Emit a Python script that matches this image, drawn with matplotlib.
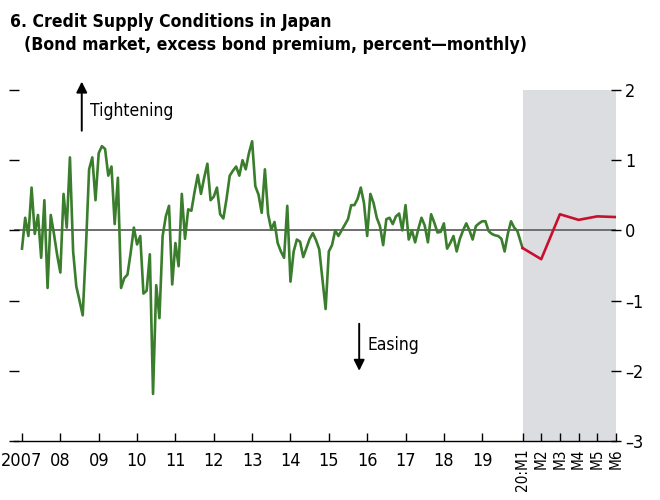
import numpy as np
import matplotlib
matplotlib.use('Agg')
import matplotlib.pyplot as plt

plt.rcParams['font.family'] = ['DejaVu Sans']
plt.rcParams['font.stretch'] = 'condensed'

# monthly excess bond premium, 2007:M1 - 2019:M12
ebp_hist = [
    -0.26, 0.18, -0.08, 0.61, -0.05, 0.22, -0.39, 0.43, -0.82, 0.22, -0.05, -0.35,   # 2007
    -0.60, 0.52, 0.04, 1.04, -0.30, -0.80, -1.00, -1.21, -0.25, 0.87, 1.04, 0.43,    # 2008
    1.10, 1.20, 1.16, 0.78, 0.91, 0.09, 0.75, -0.82, -0.68, -0.63, -0.32, 0.04,      # 2009
    -0.20, -0.08, -0.90, -0.86, -0.34, -2.33, -0.78, -1.25, -0.08, 0.20, 0.35, -0.77,  # 2010
    -0.18, -0.51, 0.52, -0.12, 0.30, 0.28, 0.55, 0.79, 0.52, 0.75, 0.95, 0.43,       # 2011
    0.48, 0.61, 0.23, 0.17, 0.45, 0.78, 0.85, 0.91, 0.78, 1.00, 0.87, 1.10,          # 2012
    1.27, 0.63, 0.51, 0.25, 0.87, 0.23, 0.01, 0.12, -0.18, -0.30, -0.39, 0.35,       # 2013
    -0.73, -0.30, -0.13, -0.16, -0.38, -0.25, -0.12, -0.04, -0.14, -0.27, -0.70, -1.12,  # 2014
    -0.30, -0.21, 0.00, -0.08, 0.00, 0.08, 0.16, 0.36, 0.36, 0.45, 0.61, 0.39,       # 2015
    -0.08, 0.52, 0.39, 0.18, 0.06, -0.21, 0.16, 0.18, 0.09, 0.20, 0.24, 0.00,        # 2016
    0.36, -0.13, 0.00, -0.17, 0.02, 0.18, 0.07, -0.17, 0.23, 0.11, -0.03, -0.02,     # 2017
    0.10, -0.26, -0.18, -0.08, -0.30, -0.12, 0.00, 0.10, 0.00, -0.13, 0.06, 0.10,    # 2018
    0.13, 0.13, -0.01, -0.05, -0.07, -0.08, -0.12, -0.30, -0.05, 0.13, 0.04, -0.01,  # 2019
]
# 2020:M1 - M6
ebp_2020 = [-0.25, -0.41, 0.23, 0.15, 0.20, 0.19]

year_labels = ['2007', '08', '09', '10', '11', '12', '13', '14', '15', '16', '17', '18', '19']
month_labels = ['20:M1', 'M2', 'M3', 'M4', 'M5', 'M6']

green = '#3a7d2c'
red = '#c8102e'

# x layout: one unit per month up to 2019, stretched months for 2020
x_hist = np.arange(len(ebp_hist))
x_2020 = 156.6 + 5.85 * np.arange(len(ebp_2020))
year_ticks = np.arange(len(year_labels)) * 12

fig = plt.figure(figsize=(6.6, 5.0), dpi=100)
ax = fig.add_axes([14 / 660, 59 / 500, 602 / 660, 351 / 500])

ax.axvspan(x_2020[0], x_2020[-1], color='#dcdde0', lw=0, zorder=0)
ax.axhline(0, color='#6e6e6e', lw=1.4, zorder=1)

ax.plot(list(x_hist) + [x_2020[0]], ebp_hist + [ebp_2020[0]], color=green, lw=1.9, zorder=3)
ax.plot(x_2020, ebp_2020, color=red, lw=1.9, zorder=3)

ax.set_xlim(-2.5, x_2020[-1])
ax.set_ylim(-3, 2)

for s in ['top', 'left', 'right']:
    ax.spines[s].set_visible(False)
ax.spines['bottom'].set_linewidth(1.0)

ax.set_xticks(list(year_ticks) + list(x_2020))
ax.set_xticklabels(year_labels + month_labels)
ax.tick_params(axis='x', direction='in', length=6, width=1, pad=8, labelsize=13)
for lab in ax.get_xticklabels()[len(year_labels):]:
    lab.set_rotation(90)
    lab.set_va('top')
    lab.set_fontsize(11)
    lab.set_y(lab.get_position()[1] + 0.01)

ax.set_yticks([2, 1, 0, -1, -2, -3])
ax.yaxis.set_ticks_position('both')
ax.tick_params(axis='y', which='both', left=True, right=True, labelleft=False,
               labelright=True, length=7, width=1, labelsize=13, pad=3)
ax.tick_params(axis='y', direction='inout')
ax.set_yticklabels(['2', '1', '0', '\u20131', '\u20132', '\u20133'])

# direction annotations
ax.annotate('', xy=(18.7, 2.12), xytext=(18.7, 1.42),
            arrowprops=dict(arrowstyle='-|>', color='black', lw=1.4,
                            mutation_scale=16, shrinkA=0, shrinkB=0),
            annotation_clip=False)
ax.text(21.4, 1.7, 'Tightening', fontsize=12.5, va='center', ha='left')
ax.annotate('', xy=(105.5, -2.0), xytext=(105.5, -1.33),
            arrowprops=dict(arrowstyle='-|>', color='black', lw=1.4,
                            mutation_scale=16, shrinkA=0, shrinkB=0))
ax.text(108.2, -1.63, 'Easing', fontsize=12.5, va='center', ha='left')

fig.text(10 / 660, 1 - 27 / 500, '6. Credit Supply Conditions in Japan',
         fontsize=12.6, fontweight='bold', va='baseline', ha='left')
fig.text(24 / 660, 1 - 50 / 500, '(Bond market, excess bond premium, percent\u2014monthly)',
         fontsize=12.6, fontweight='bold', va='baseline', ha='left')

fig.savefig('out.png', dpi=100)
